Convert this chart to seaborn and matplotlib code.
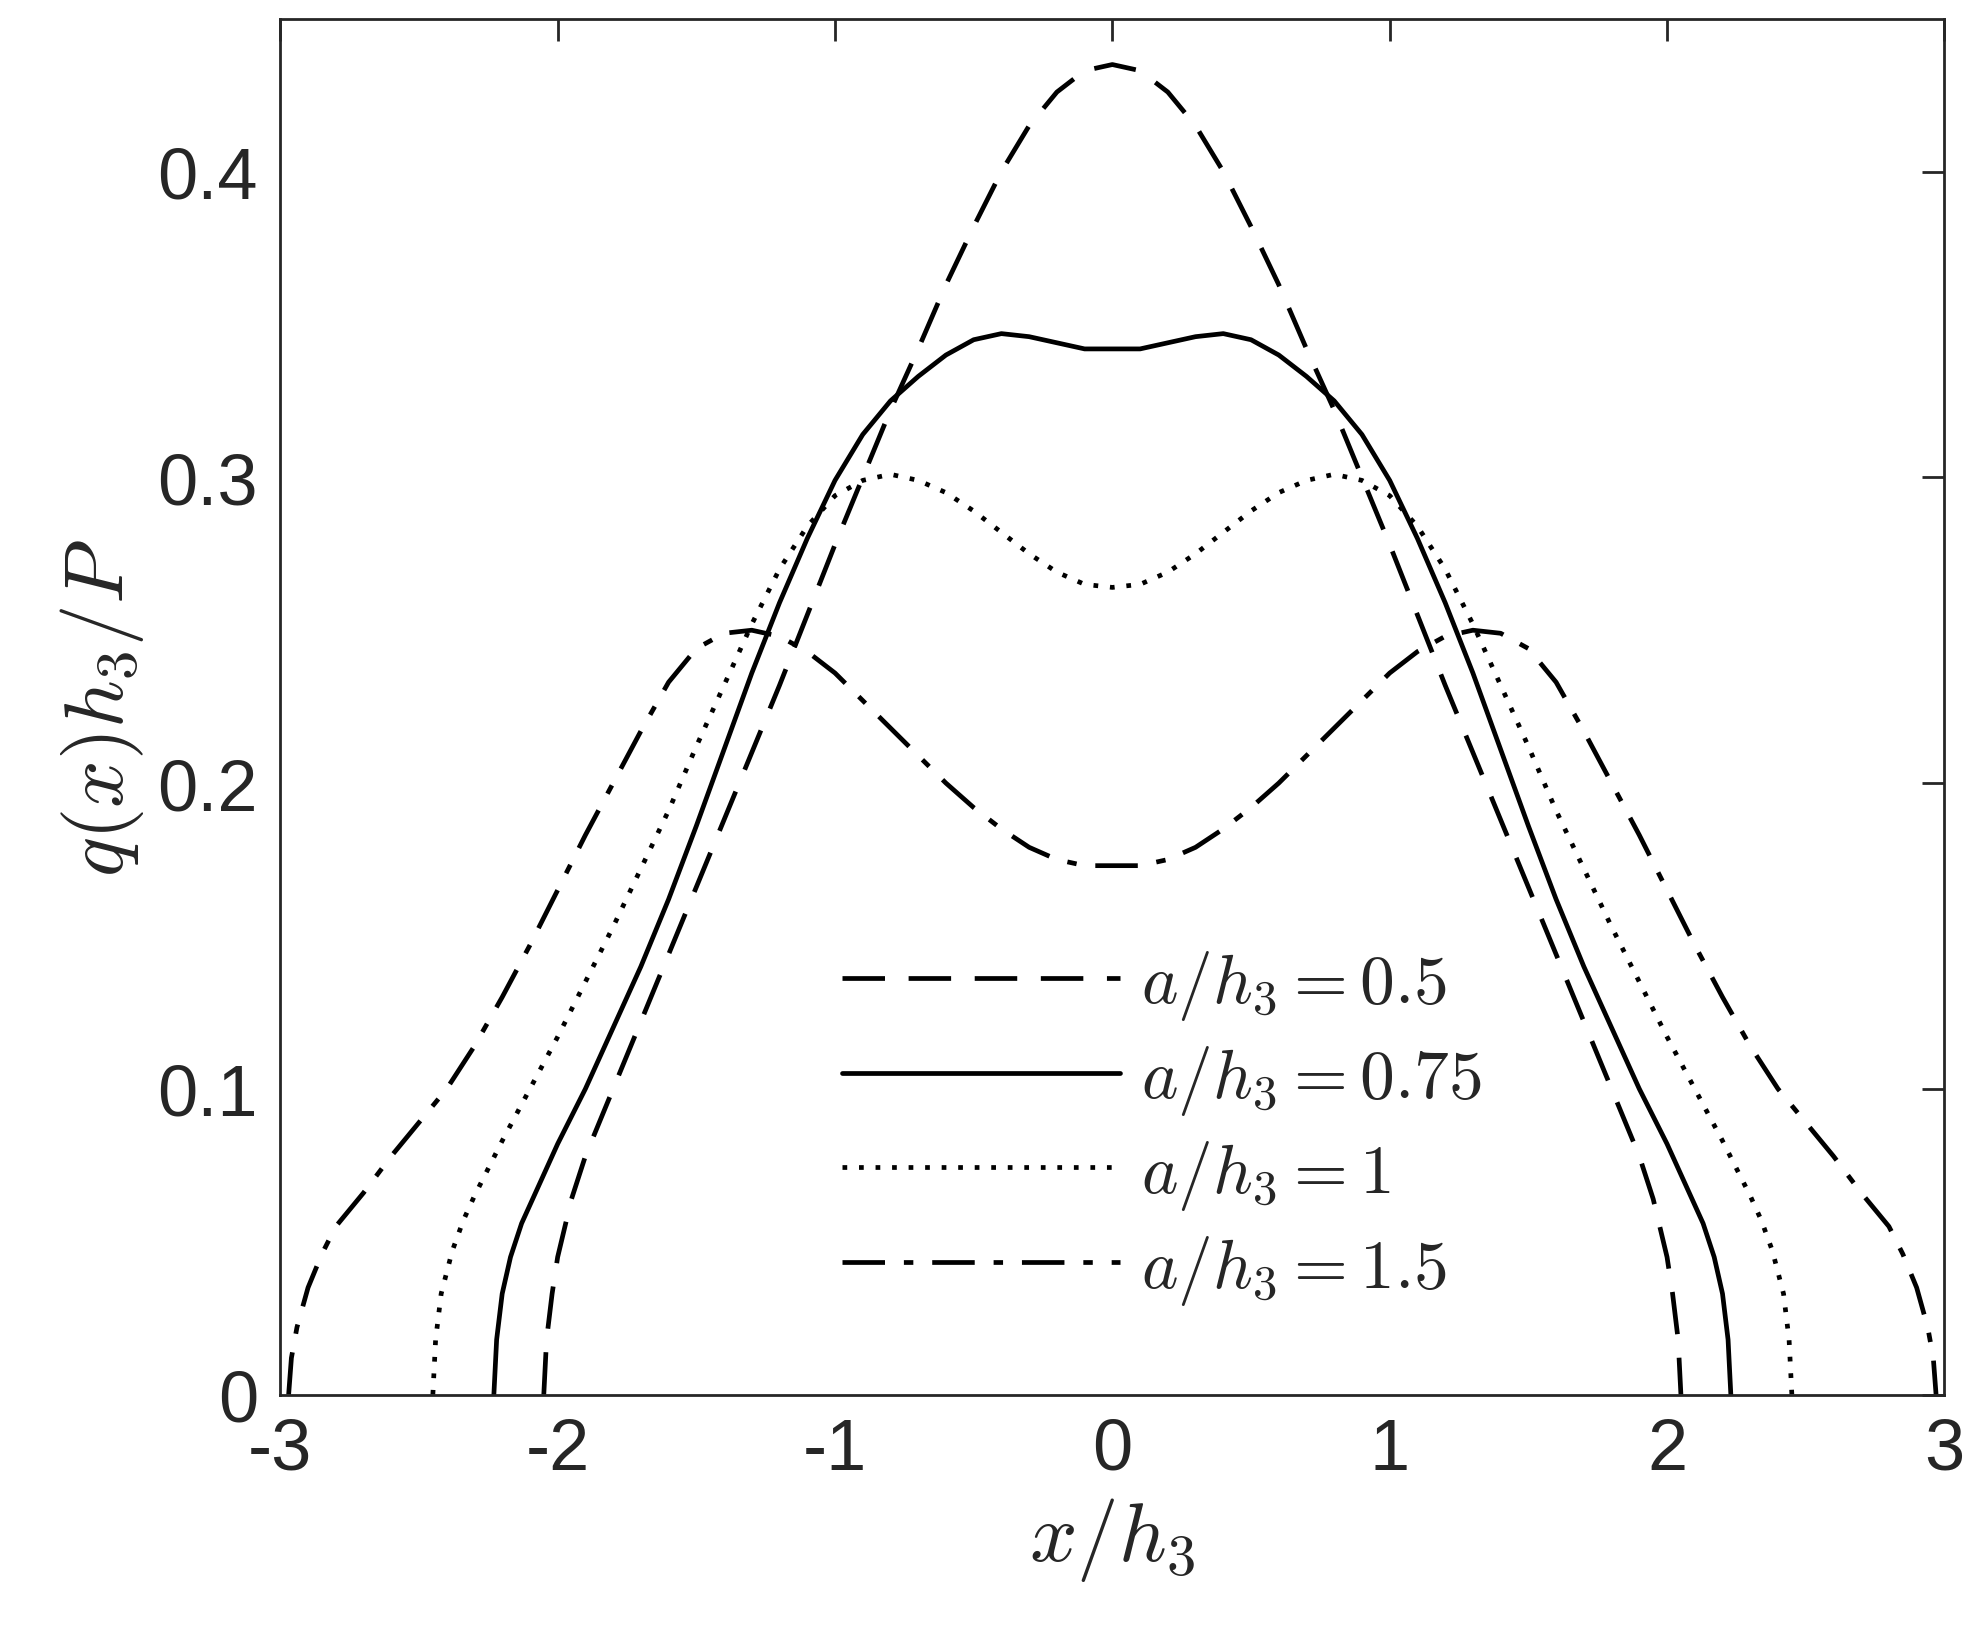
import matplotlib
matplotlib.use("Agg")
import matplotlib.pyplot as plt
import seaborn as sns
import pandas as pd

# half curves (x <= 0), the curves are symmetric about x = 0
x_05 = [-2.05, -2.04, -2.02, -2.0, -1.95, -1.9, -1.8, -1.7, -1.6, -1.5, -1.4, -1.3, -1.2, -1.1, -1.0,
        -0.9, -0.8, -0.7, -0.6, -0.5, -0.4, -0.3, -0.2, -0.1, 0.0]
y_05 = [0.0, 0.018, 0.033, 0.045, 0.064, 0.078, 0.1, 0.122, 0.144, 0.166, 0.188, 0.21, 0.232, 0.255, 0.278,
        0.3, 0.322, 0.342, 0.363, 0.382, 0.4, 0.415, 0.426, 0.433, 0.435]

x_075 = [-2.23, -2.22, -2.2, -2.17, -2.13, -2.1, -2.0, -1.9, -1.8, -1.7, -1.6, -1.5, -1.4, -1.3, -1.2,
         -1.1, -1.0, -0.9, -0.8, -0.7, -0.6, -0.5, -0.4, -0.3, -0.2, -0.1, 0.0]
y_075 = [0.0, 0.018, 0.033, 0.045, 0.056, 0.062, 0.082, 0.1, 0.12, 0.14, 0.162, 0.186, 0.211, 0.236, 0.259,
         0.28, 0.299, 0.314, 0.325, 0.333, 0.34, 0.345, 0.347, 0.346, 0.344, 0.342, 0.342]

x_1 = [-2.45, -2.44, -2.42, -2.38, -2.34, -2.3, -2.2, -2.1, -2.0, -1.9, -1.8, -1.7, -1.6, -1.5, -1.4,
       -1.3, -1.2, -1.1, -1.0, -0.9, -0.8, -0.7, -0.6, -0.5, -0.4, -0.3, -0.2, -0.1, 0.0]
y_1 = [0.0, 0.018, 0.033, 0.047, 0.057, 0.065, 0.083, 0.1, 0.117, 0.135, 0.153, 0.172, 0.191, 0.212, 0.232,
       0.252, 0.27, 0.284, 0.294, 0.299, 0.301, 0.299, 0.295, 0.289, 0.282, 0.275, 0.269, 0.265, 0.264]

x_15 = [-2.97, -2.96, -2.94, -2.9, -2.85, -2.8, -2.7, -2.6, -2.5, -2.4, -2.3, -2.2, -2.1, -2.0, -1.9,
        -1.8, -1.7, -1.6, -1.5, -1.4, -1.3, -1.2, -1.1, -1.0, -0.9, -0.8, -0.7, -0.6, -0.5, -0.4,
        -0.3, -0.2, -0.1, 0.0]
y_15 = [0.0, 0.012, 0.022, 0.035, 0.046, 0.055, 0.066, 0.078, 0.089, 0.1, 0.114, 0.13, 0.147, 0.165, 0.183,
        0.2, 0.217, 0.233, 0.244, 0.249, 0.25, 0.248, 0.243, 0.236, 0.227, 0.218, 0.209, 0.2, 0.192, 0.185,
        0.179, 0.175, 0.173, 0.173]

labels = [r"$a/h_3 = 0.5$", r"$a/h_3 = 0.75$", r"$a/h_3 = 1$", r"$a/h_3 = 1.5$"]
styles = [(0, (9, 5)), "-", (0, (1, 2.5)), (0, (9, 4, 2, 4))]


def mirror(xs, ys):
    fx = list(xs) + [-v for v in reversed(xs[:-1])]
    fy = list(ys) + list(reversed(ys[:-1]))
    return fx, fy


sns.set_style("white")
plt.rcParams['font.family'] = ['Liberation Sans', 'DejaVu Sans']
plt.rcParams['mathtext.fontset'] = 'cm'

fig = plt.figure(figsize=(9.87, 8.2), dpi=200)
ax = fig.add_axes([0.142, 0.149, 0.843, 0.839])

for (xs, ys), lab, ls in zip([(x_05, y_05), (x_075, y_075), (x_1, y_1), (x_15, y_15)], labels, styles):
    fx, fy = mirror(xs, ys)
    df = pd.DataFrame({"x": fx, "y": fy})
    sns.lineplot(data=df, x="x", y="y", sort=False, ax=ax, color="black",
                 linewidth=1.7, linestyle=ls, label=lab)

ax.set_xlim(-3, 3)
ax.set_ylim(0, 0.45)
ax.set_xticks([-3, -2, -1, 0, 1, 2, 3])
ax.set_xticklabels(["-3", "-2", "-1", "0", "1", "2", "3"])
ax.set_yticks([0, 0.1, 0.2, 0.3, 0.4])
ax.set_yticklabels(["0", "0.1", "0.2", "0.3", "0.4"])
ax.tick_params(direction="in", length=8, width=1, top=True, right=True, labelsize=26,
               colors="#262626", pad=8)
for s in ax.spines.values():
    s.set_color("#262626")
    s.set_linewidth(1)
ax.set_xlabel(r"$x/h_3$", fontsize=30, color="#262626", labelpad=4)
ax.set_ylabel(r"$q(x)h_3/P$", fontsize=30, color="#262626", labelpad=4)

ax.legend(loc="upper left", bbox_to_anchor=(0.3, 0.37), frameon=False, fontsize=25,
          handlelength=4.0, handletextpad=0.3, labelspacing=0.3)

fig.savefig("out.png", dpi=200)
